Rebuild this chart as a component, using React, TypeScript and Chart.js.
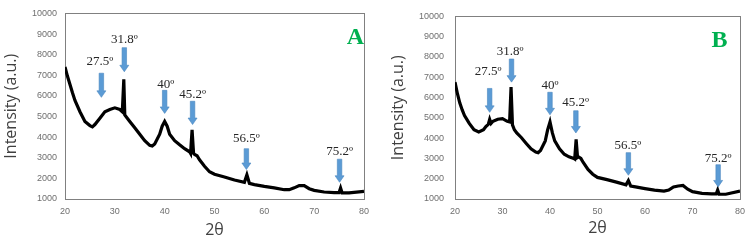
import React, { useEffect, useRef } from 'react';
import { Chart, registerables } from 'chart.js';
Chart.register(...registerables);

// ---------- data ----------
const anglesA = [20,20.5,21,21.5,22,23,24,25,25.5,26,27,28,29,30,31,31.5,31.8,32,32.5,33,34,35,36,37,37.5,38,39,39.5,40,40.5,41,42,43,44,45,45.2,45.5,45.8,46,46.5,47,48,49,50,52,54,56,56.5,57,58,60,62,64,65,66,67,68,69,70,72,74,75,75.3,75.6,77,80];
const intensityA = [7400,6950,6550,6150,5780,5230,4760,4560,4500,4610,4920,5230,5340,5420,5340,5230,6800,5075,4920,4760,4450,4140,3830,3600,3570,3670,4140,4530,4760,4530,4140,3830,3630,3440,3290,3210,4350,3210,3160,3100,2900,2590,2320,2200,2070,1920,1810,2170,1760,1700,1610,1540,1450,1450,1540,1650,1650,1500,1420,1340,1310,1310,1530,1300,1300,1370];

const anglesB = [20,20.5,21,21.5,22,23,24,25,26,26.5,27,27.3,27.6,28,29,30,31,31.5,31.8,32.1,32.5,33,34,35,36,37,37.5,38,39,39.5,40,40.5,41,42,43,44,45,45.2,45.5,45.8,46,46.5,47,48,49,50,52,54,56,56.5,57,58,60,62,64,65,66,67,68,69,70,72,74,75,75.3,75.6,77,80];
const intensityB = [6760,6200,5740,5400,5115,4725,4410,4300,4410,4570,4680,4930,4725,4830,4930,4960,4830,4800,6520,4650,4410,4255,4020,3740,3470,3315,3285,3390,3865,4410,4800,4255,3865,3470,3205,3080,3000,2970,3940,3050,3080,3000,2800,2455,2220,2065,1955,1830,1700,1910,1640,1595,1515,1440,1390,1440,1595,1640,1670,1485,1360,1280,1250,1250,1440,1235,1235,1390];

const peakLabels = ['27.5º', '31.8º', '40º', '45.2º', '56.5º', '75.2º'];

// arrow and label anchors, in data units (2θ, intensity)
const arrowXA = [27.3, 31.9, 40.0, 45.6, 56.4, 75.1];
const arrowTopA = [7100, 8340, 6270, 5740, 3440, 2930];
const arrowTipA = [5930, 7170, 5150, 4610, 2430, 1810];
const labelXA = [27.0, 31.9, 40.2, 45.6, 56.4, 75.1];
const labelYA = [7640, 8730, 6550, 6085, 3910, 3290];

const arrowXB = [27.3, 31.9, 40.0, 45.45, 56.5, 75.4];
const arrowTopB = [6450, 7900, 6260, 5350, 3285, 2690];
const arrowTipB = [5270, 6760, 5150, 4255, 2170, 1595];
const labelXB = [27.0, 31.6, 40.0, 45.4, 56.4, 75.4];
const labelYB = [7300, 8280, 6600, 5740, 3630, 3000];

const xMin = 20, xMax = 80, xStep = 10;
const yMin = 1000, yMax = 10000, yStep = 1000;

// ---------- drawing helpers ----------
function drawArrow(ctx: CanvasRenderingContext2D, x: number, yTop: number, yTip: number) {
  const shaftW = 4.5, headW = 9, headL = 6.5;
  ctx.beginPath();
  ctx.moveTo(x - shaftW / 2, yTop);
  ctx.lineTo(x + shaftW / 2, yTop);
  ctx.lineTo(x + shaftW / 2, yTip - headL);
  ctx.lineTo(x + headW / 2, yTip - headL);
  ctx.lineTo(x, yTip);
  ctx.lineTo(x - headW / 2, yTip - headL);
  ctx.lineTo(x - shaftW / 2, yTip - headL);
  ctx.closePath();
  ctx.fillStyle = '#5B9BD5';
  ctx.fill();
  ctx.lineWidth = 0.6;
  ctx.strokeStyle = '#4A86C0';
  ctx.stroke();
}

type PanelProps = {
  angles: number[];
  intensity: number[];
  arrowX: number[];
  arrowTop: number[];
  arrowTip: number[];
  labelX: number[];
  labelY: number[];
  letter: string;
  letterX: number;
  letterY: number;
  padLeft: number;
  yWidth: number;
  yTickPad: number;
  xTitlePad: number;
};

function Panel(p: PanelProps) {
  const ref = useRef<HTMLCanvasElement>(null);
  useEffect(() => {
    if (!ref.current) return;
    const overlay = {
      id: 'overlay',
      beforeDatasetsDraw(chart: any) {
        const { ctx, chartArea: a } = chart;
        ctx.save();
        ctx.strokeStyle = '#808080';
        ctx.lineWidth = 1;
        ctx.strokeRect(Math.round(a.left) + 0.5, Math.round(a.top) + 0.5, Math.round(a.right - a.left), Math.round(a.bottom - a.top));
        ctx.restore();
      },
      afterDatasetsDraw(chart: any) {
        const { ctx } = chart;
        const xs = chart.scales.x, ys = chart.scales.y;
        ctx.save();
        for (let i = 0; i < peakLabels.length; i++) {
          drawArrow(ctx, xs.getPixelForValue(p.arrowX[i]), ys.getPixelForValue(p.arrowTop[i]), ys.getPixelForValue(p.arrowTip[i]));
          ctx.fillStyle = '#262626';
          ctx.font = '13px "Liberation Serif", "Times New Roman", serif';
          ctx.textAlign = 'center';
          ctx.textBaseline = 'middle';
          ctx.fillText(peakLabels[i], xs.getPixelForValue(p.labelX[i]), ys.getPixelForValue(p.labelY[i]));
        }
        ctx.fillStyle = '#00B050';
        ctx.font = 'bold 24px "Liberation Serif", "Times New Roman", serif';
        ctx.textAlign = 'center';
        ctx.textBaseline = 'middle';
        ctx.fillText(p.letter, xs.getPixelForValue(p.letterX), ys.getPixelForValue(p.letterY));
        ctx.restore();
      },
    };
    const tickFont = { size: 9, family: '"Liberation Sans", Arial, sans-serif' };
    const chart = new Chart(ref.current, {
      type: 'line',
      data: {
        datasets: [{
          data: p.angles.map((a, i) => ({ x: a, y: p.intensity[i] })),
          borderColor: '#000',
          borderWidth: 3.2,
          pointRadius: 0,
          tension: 0,
          fill: false,
        }],
      },
      options: {
        animation: false,
        responsive: false,
        events: [],
        layout: { padding: { left: p.padLeft, right: 7, top: 6, bottom: 0 } },
        plugins: { legend: { display: false }, tooltip: { enabled: false } },
        scales: {
          x: {
            type: 'linear',
            min: xMin, max: xMax,
            grid: { display: false, drawTicks: false },
            border: { display: false },
            ticks: { stepSize: xStep, padding: 7, color: '#6f6f6f', font: tickFont, maxRotation: 0, callback: (v: any) => String(v) },
            title: { display: true, text: '2θ', color: '#404040', padding: { top: 0, bottom: p.xTitlePad }, font: { size: 16, family: '"Open Sans", sans-serif' } },
            afterFit: (s: any) => { s.height = 42; },
          },
          y: {
            min: yMin, max: yMax,
            grid: { display: false, drawTicks: false },
            border: { display: false },
            ticks: { stepSize: yStep, padding: p.yTickPad, color: '#6f6f6f', font: tickFont, callback: (v: any) => String(v) },
            title: { display: true, text: 'Intensity (a.u.)', color: '#404040', padding: { top: 1.4, bottom: 0 }, font: { size: 16, family: '"Open Sans", sans-serif' } },
            afterFit: (s: any) => { s.width = p.yWidth; },
          },
        },
      },
      plugins: [overlay],
    });
    return () => chart.destroy();
  }, []);
  return <canvas ref={ref} width={376} height={241} style={{ display: 'block', width: 376, height: 241 }} />;
}

export default function App() {
  return (
    <div style={{ position: 'absolute', left: 0, top: 0, width: 752, height: 241, display: 'flex', background: '#fff' }}>
      <Panel angles={anglesA} intensity={intensityA} arrowX={arrowXA} arrowTop={arrowTopA} arrowTip={arrowTipA}
        labelX={labelXA} labelY={labelYA} letter="A" letterX={78.3} letterY={8800}
        padLeft={0} yWidth={65} yTickPad={8} xTitlePad={1} />
      <Panel angles={anglesB} intensity={intensityB} arrowX={arrowXB} arrowTop={arrowTopB} arrowTip={arrowTipB}
        labelX={labelXB} labelY={labelYB} letter="B" letterX={75.7} letterY={8790}
        padLeft={11} yWidth={68} yTickPad={11} xTitlePad={3} />
    </div>
  );
}
